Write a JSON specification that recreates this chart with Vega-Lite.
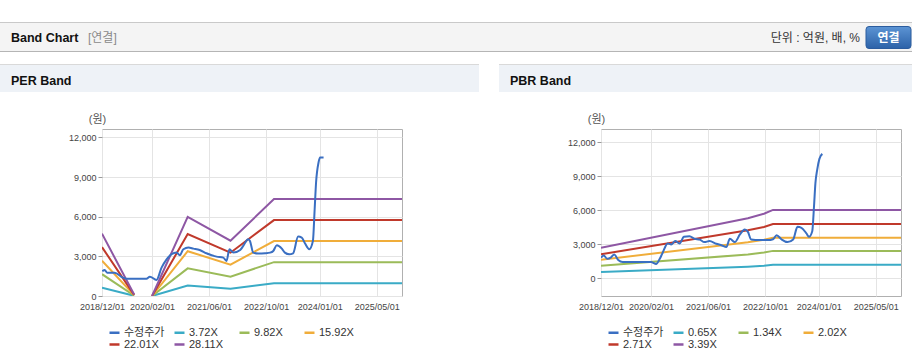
{
"$schema": "https://vega.github.io/schema/vega-lite/v6.json",
"background": "white",
"padding": {"top": 22, "left": 0, "right": 0, "bottom": 0},
"config": {
  "font": "Liberation Sans, Noto Sans CJK KR, sans-serif",
  "view": {"stroke": "#b0b0b0", "strokeWidth": 1},
  "axis": {"labelFontSize": 9, "labelColor": "#444", "gridColor": "#e4e4e4", "domain": false}
},
"datasets": {
  "perBand": [
    {"s": "3.72X", "d": "2018-12-01", "v": 625}, {"s": "3.72X", "d": "2019-09-01", "v": 15}, {"s": "3.72X", "d": "2019-11-15", "v": null}, {"s": "3.72X", "d": "2020-02-01", "v": 0}, {"s": "3.72X", "d": "2020-12-01", "v": 792}, {"s": "3.72X", "d": "2021-12-01", "v": 554}, {"s": "3.72X", "d": "2022-12-07", "v": 971}, {"s": "3.72X", "d": "2025-12-03", "v": 971},
    {"s": "9.82X", "d": "2018-12-01", "v": 1650}, {"s": "9.82X", "d": "2019-09-01", "v": 39}, {"s": "9.82X", "d": "2019-11-15", "v": null}, {"s": "9.82X", "d": "2020-02-01", "v": 0}, {"s": "9.82X", "d": "2020-12-01", "v": 2092}, {"s": "9.82X", "d": "2021-12-01", "v": 1463}, {"s": "9.82X", "d": "2022-12-07", "v": 2563}, {"s": "9.82X", "d": "2025-12-03", "v": 2563},
    {"s": "15.92X", "d": "2018-12-01", "v": 2675}, {"s": "15.92X", "d": "2019-09-01", "v": 64}, {"s": "15.92X", "d": "2019-11-15", "v": null}, {"s": "15.92X", "d": "2020-02-01", "v": 0}, {"s": "15.92X", "d": "2020-12-01", "v": 3391}, {"s": "15.92X", "d": "2021-12-01", "v": 2372}, {"s": "15.92X", "d": "2022-12-07", "v": 4155}, {"s": "15.92X", "d": "2025-12-03", "v": 4155},
    {"s": "22.01X", "d": "2018-12-01", "v": 3698}, {"s": "22.01X", "d": "2019-09-01", "v": 88}, {"s": "22.01X", "d": "2019-11-15", "v": null}, {"s": "22.01X", "d": "2020-02-01", "v": 0}, {"s": "22.01X", "d": "2020-12-01", "v": 4688}, {"s": "22.01X", "d": "2021-12-01", "v": 3279}, {"s": "22.01X", "d": "2022-12-07", "v": 5745}, {"s": "22.01X", "d": "2025-12-03", "v": 5745},
    {"s": "28.11X", "d": "2018-12-01", "v": 4722}, {"s": "28.11X", "d": "2019-09-01", "v": 112}, {"s": "28.11X", "d": "2019-11-15", "v": null}, {"s": "28.11X", "d": "2020-02-01", "v": 0}, {"s": "28.11X", "d": "2020-12-01", "v": 5987}, {"s": "28.11X", "d": "2021-12-01", "v": 4188}, {"s": "28.11X", "d": "2022-12-07", "v": 7337}, {"s": "28.11X", "d": "2025-12-03", "v": 7337}
  ],
  "perPrice": [
    {"s": "수정주가", "d": "2018-12-04", "v": 1869}, {"s": "수정주가", "d": "2018-12-24", "v": 1970}, {"s": "수정주가", "d": "2019-01-13", "v": 1768}, {"s": "수정주가", "d": "2019-03-18", "v": 1768}, {"s": "수정주가", "d": "2019-05-28", "v": 1389}, {"s": "수정주가", "d": "2019-06-27", "v": 1314}, {"s": "수정주가", "d": "2019-12-15", "v": 1314}, {"s": "수정주가", "d": "2020-01-13", "v": 1465}, {"s": "수정주가", "d": "2020-03-10", "v": 1212}, {"s": "수정주가", "d": "2020-04-22", "v": 2147}, {"s": "수정주가", "d": "2020-06-04", "v": 2779}, {"s": "수정주가", "d": "2020-07-16", "v": 3158}, {"s": "수정주가", "d": "2020-08-28", "v": 3284}, {"s": "수정주가", "d": "2020-09-25", "v": 3082}, {"s": "수정주가", "d": "2020-10-25", "v": 3536}, {"s": "수정주가", "d": "2020-12-07", "v": 3663}, {"s": "수정주가", "d": "2021-01-19", "v": 3587}, {"s": "수정주가", "d": "2021-03-13", "v": 3486}, {"s": "수정주가", "d": "2021-05-10", "v": 3233}, {"s": "수정주가", "d": "2021-08-04", "v": 2981}, {"s": "수정주가", "d": "2021-10-01", "v": 2905}, {"s": "수정주가", "d": "2021-10-28", "v": 2652}, {"s": "수정주가", "d": "2021-11-22", "v": 3536}, {"s": "수정주가", "d": "2021-12-25", "v": 3284}, {"s": "수정주가", "d": "2022-02-22", "v": 3486}, {"s": "수정주가", "d": "2022-03-20", "v": 3789}, {"s": "수정주가", "d": "2022-05-01", "v": 4300}, {"s": "수정주가", "d": "2022-05-16", "v": 4168}, {"s": "수정주가", "d": "2022-06-13", "v": 3284}, {"s": "수정주가", "d": "2022-07-25", "v": 3208}, {"s": "수정주가", "d": "2022-09-22", "v": 3233}, {"s": "수정주가", "d": "2022-11-04", "v": 3284}, {"s": "수정주가", "d": "2022-12-01", "v": 3410}, {"s": "수정주가", "d": "2022-12-31", "v": 3840}, {"s": "수정주가", "d": "2023-02-12", "v": 3587}, {"s": "수정주가", "d": "2023-03-10", "v": 3284}, {"s": "수정주가", "d": "2023-04-16", "v": 3158}, {"s": "수정주가", "d": "2023-05-19", "v": 3233}, {"s": "수정주가", "d": "2023-07-01", "v": 4496}, {"s": "수정주가", "d": "2023-08-01", "v": 4420}, {"s": "수정주가", "d": "2023-08-28", "v": 3991}, {"s": "수정주가", "d": "2023-10-04", "v": 3536}, {"s": "수정주가", "d": "2023-11-04", "v": 4168}, {"s": "수정주가", "d": "2023-11-19", "v": 6568}, {"s": "수정주가", "d": "2023-12-01", "v": 8588}, {"s": "수정주가", "d": "2023-12-22", "v": 10104}, {"s": "수정주가", "d": "2024-01-04", "v": 10483}, {"s": "수정주가", "d": "2024-02-03", "v": 10483}
  ],
  "pbrBand": [
    {"s": "0.65X", "d": "2018-12-01", "v": 545}, {"s": "0.65X", "d": "2022-05-07", "v": 1025}, {"s": "0.65X", "d": "2022-09-21", "v": 1100}, {"s": "0.65X", "d": "2022-12-07", "v": 1185}, {"s": "0.65X", "d": "2025-12-03", "v": 1185},
    {"s": "1.34X", "d": "2018-12-01", "v": 1100}, {"s": "1.34X", "d": "2022-05-07", "v": 2110}, {"s": "1.34X", "d": "2022-09-21", "v": 2270}, {"s": "1.34X", "d": "2022-12-07", "v": 2420}, {"s": "1.34X", "d": "2025-12-03", "v": 2420},
    {"s": "2.02X", "d": "2018-12-01", "v": 1630}, {"s": "2.02X", "d": "2022-05-07", "v": 3185}, {"s": "2.02X", "d": "2022-09-21", "v": 3400}, {"s": "2.02X", "d": "2022-12-07", "v": 3570}, {"s": "2.02X", "d": "2025-12-03", "v": 3570},
    {"s": "2.71X", "d": "2018-12-01", "v": 2130}, {"s": "2.71X", "d": "2022-05-07", "v": 4250}, {"s": "2.71X", "d": "2022-09-21", "v": 4530}, {"s": "2.71X", "d": "2022-12-07", "v": 4790}, {"s": "2.71X", "d": "2025-12-03", "v": 4790},
    {"s": "3.39X", "d": "2018-12-01", "v": 2690}, {"s": "3.39X", "d": "2022-05-07", "v": 5310}, {"s": "3.39X", "d": "2022-09-21", "v": 5705}, {"s": "3.39X", "d": "2022-12-07", "v": 6040}, {"s": "3.39X", "d": "2025-12-03", "v": 6040}
  ],
  "pbrPrice": [
    {"s": "수정주가", "d": "2018-12-01", "v": 1817}, {"s": "수정주가", "d": "2018-12-24", "v": 2022}, {"s": "수정주가", "d": "2019-01-22", "v": 1729}, {"s": "수정주가", "d": "2019-02-25", "v": 1850}, {"s": "수정주가", "d": "2019-03-24", "v": 2110}, {"s": "수정주가", "d": "2019-04-27", "v": 1612}, {"s": "수정주가", "d": "2019-06-04", "v": 1436}, {"s": "수정주가", "d": "2019-08-01", "v": 1436}, {"s": "수정주가", "d": "2019-11-07", "v": 1436}, {"s": "수정주가", "d": "2020-02-02", "v": 1436}, {"s": "수정주가", "d": "2020-02-16", "v": 1377}, {"s": "수정주가", "d": "2020-03-15", "v": 1260}, {"s": "수정주가", "d": "2020-04-13", "v": 1670}, {"s": "수정주가", "d": "2020-05-10", "v": 2256}, {"s": "수정주가", "d": "2020-06-22", "v": 3077}, {"s": "수정주가", "d": "2020-07-22", "v": 2989}, {"s": "수정주가", "d": "2020-08-25", "v": 3282}, {"s": "수정주가", "d": "2020-10-01", "v": 3077}, {"s": "수정주가", "d": "2020-11-07", "v": 3663}, {"s": "수정주가", "d": "2020-12-25", "v": 3721}, {"s": "수정주가", "d": "2021-02-07", "v": 3487}, {"s": "수정주가", "d": "2021-03-20", "v": 3428}, {"s": "수정주가", "d": "2021-05-01", "v": 3194}, {"s": "수정주가", "d": "2021-06-13", "v": 3282}, {"s": "수정주가", "d": "2021-08-10", "v": 3047}, {"s": "수정주가", "d": "2021-09-28", "v": 2901}, {"s": "수정주가", "d": "2021-11-04", "v": 2754}, {"s": "수정주가", "d": "2021-12-04", "v": 3487}, {"s": "수정주가", "d": "2022-01-16", "v": 3194}, {"s": "수정주가", "d": "2022-02-28", "v": 3868}, {"s": "수정주가", "d": "2022-04-10", "v": 4307}, {"s": "수정주가", "d": "2022-05-07", "v": 4100}, {"s": "수정주가", "d": "2022-06-04", "v": 3428}, {"s": "수정주가", "d": "2022-08-13", "v": 3370}, {"s": "수정주가", "d": "2022-10-25", "v": 3370}, {"s": "수정주가", "d": "2022-12-07", "v": 3450}, {"s": "수정주가", "d": "2023-01-07", "v": 3809}, {"s": "수정주가", "d": "2023-02-19", "v": 3428}, {"s": "수정주가", "d": "2023-04-10", "v": 3194}, {"s": "수정주가", "d": "2023-05-28", "v": 3428}, {"s": "수정주가", "d": "2023-07-04", "v": 4541}, {"s": "수정주가", "d": "2023-08-07", "v": 4453}, {"s": "수정주가", "d": "2023-09-19", "v": 3955}, {"s": "수정주가", "d": "2023-10-10", "v": 3663}, {"s": "수정주가", "d": "2023-11-07", "v": 4160}, {"s": "수정주가", "d": "2023-11-22", "v": 6358}, {"s": "수정주가", "d": "2023-12-04", "v": 8409}, {"s": "수정주가", "d": "2023-12-19", "v": 9581}, {"s": "수정주가", "d": "2024-01-07", "v": 10548}, {"s": "수정주가", "d": "2024-02-01", "v": 10988}
  ]
},
"spacing": 12,
"resolve": {"scale": {"x": "independent", "y": "independent", "color": "independent"}},
"vconcat": [
  {
    "width": 912, "height": 30,
    "view": {"stroke": null, "fill": {"gradient": "linear", "x1": 0, "y1": 0, "x2": 0, "y2": 1, "stops": [{"offset": 0, "color": "#c9c9c9"}, {"offset": 0.034, "color": "#c9c9c9"}, {"offset": 0.035, "color": "#f4f4f4"}, {"offset": 0.965, "color": "#f4f4f4"}, {"offset": 0.966, "color": "#b5b5b5"}, {"offset": 1, "color": "#b5b5b5"}]}},
    "layer": [
      {"data": {"values": [{"label": "Band Chart"}]}, "mark": {"type": "text", "align": "left", "baseline": "middle", "dx": 11, "dy": 1, "fontSize": 12.5, "fontWeight": "bold", "color": "#111"}, "encoding": {"text": {"field": "label"}, "x": {"datum": 0, "type": "quantitative", "scale": {"domain": [0, 1]}, "axis": null}}},
      {"data": {"values": [{"label": "[연결]"}]}, "mark": {"type": "text", "align": "left", "baseline": "middle", "dx": 88, "dy": 1, "fontSize": 12, "color": "#8a8a8a"}, "encoding": {"text": {"field": "label"}, "x": {"datum": 0, "type": "quantitative", "scale": {"domain": [0, 1]}, "axis": null}}},
      {"data": {"values": [{"label": "단위 : 억원, 배, %"}]}, "mark": {"type": "text", "align": "right", "baseline": "middle", "dx": -52, "dy": 1, "fontSize": 12, "color": "#333"}, "encoding": {"text": {"field": "label"}, "x": {"datum": 1, "type": "quantitative", "scale": {"domain": [0, 1]}, "axis": null}}},
      {"data": {"values": [{"label": "연결"}]}, "mark": {"type": "point", "shape": "M-4.3,-1.05 L-0.4,-1.05 Q-0.1,-1.05 -0.1,-0.75 L-0.1,0.85 Q-0.1,1.15 -0.4,1.15 L-4.3,1.15 Q-4.6,1.15 -4.6,0.85 L-4.6,-0.75 Q-4.6,-1.05 -4.3,-1.05 Z", "size": 400, "filled": true, "opacity": 1, "fill": {"gradient": "linear", "x1": 0, "y1": 0, "x2": 0, "y2": 1, "stops": [{"offset": 0, "color": "#5c94d4"}, {"offset": 1, "color": "#2c62a8"}]}, "stroke": "#2b5c9e", "strokeWidth": 1}, "encoding": {"x": {"datum": 1, "type": "quantitative", "scale": {"domain": [0, 1]}, "axis": null}}},
      {"data": {"values": [{"label": "연결"}]}, "mark": {"type": "text", "align": "center", "baseline": "middle", "dx": -23.5, "dy": 1, "fontSize": 12, "fontWeight": "bold", "color": "white"}, "encoding": {"text": {"field": "label"}, "x": {"datum": 1, "type": "quantitative", "scale": {"domain": [0, 1]}, "axis": null}}}
    ]
  },
  {
    "spacing": 20,
    "resolve": {"scale": {"x": "independent", "y": "independent", "color": "independent"}},
    "vconcat": [
      {
        "bounds": "flush",
        "spacing": 20,
        "resolve": {"scale": {"x": "independent"}},
        "hconcat": [
          {"width": 479, "height": 28, "view": {"stroke": null, "fill": {"gradient": "linear", "x1": 0, "y1": 0, "x2": 0, "y2": 1, "stops": [{"offset": 0, "color": "#d9d9d9"}, {"offset": 0.035, "color": "#d9d9d9"}, {"offset": 0.036, "color": "#eef2f7"}, {"offset": 1, "color": "#eef2f7"}]}},
           "data": {"values": [{"label": "PER Band"}]}, "mark": {"type": "text", "align": "left", "baseline": "middle", "dx": 11, "dy": 2.5, "fontSize": 12.5, "fontWeight": "bold", "color": "#111"}, "encoding": {"text": {"field": "label"}, "x": {"datum": 0, "type": "quantitative", "scale": {"domain": [0, 1]}, "axis": null}}},
          {"width": 413, "height": 28, "view": {"stroke": null, "fill": {"gradient": "linear", "x1": 0, "y1": 0, "x2": 0, "y2": 1, "stops": [{"offset": 0, "color": "#d9d9d9"}, {"offset": 0.035, "color": "#d9d9d9"}, {"offset": 0.036, "color": "#eef2f7"}, {"offset": 1, "color": "#eef2f7"}]}},
           "data": {"values": [{"label": "PBR Band"}]}, "mark": {"type": "text", "align": "left", "baseline": "middle", "dx": 11, "dy": 2.5, "fontSize": 12.5, "fontWeight": "bold", "color": "#111"}, "encoding": {"text": {"field": "label"}, "x": {"datum": 0, "type": "quantitative", "scale": {"domain": [0, 1]}, "axis": null}}}
        ]
      },
      {
        "bounds": "flush",
        "spacing": 0,
        "resolve": {"scale": {"x": "independent", "y": "independent", "color": "independent"}},
        "hconcat": [
          {"width": 102, "height": 167, "view": {"stroke": null}, "data": {"values": [{}]}, "mark": {"type": "point", "opacity": 0}},
          {
            "width": 300, "height": 167,
            "encoding": {
              "x": {"field": "d", "type": "temporal", "title": null, "scale": {"type": "utc", "domain": [{"year": 2018, "month": 12, "date": 1, "utc": true}, {"year": 2025, "month": 12, "date": 3, "utc": true}]}, "axis": {"values": [{"year": 2018, "month": 12, "date": 1, "utc": true}, {"year": 2020, "month": 2, "date": 1, "utc": true}, {"year": 2021, "month": 6, "date": 1, "utc": true}, {"year": 2022, "month": 10, "date": 1, "utc": true}, {"year": 2024, "month": 1, "date": 1, "utc": true}, {"year": 2025, "month": 5, "date": 1, "utc": true}], "format": "%Y/%m/%d", "ticks": false, "labelPadding": 6, "grid": true, "labelOverlap": false, "labelFlush": false}},
              "y": {"field": "v", "type": "quantitative", "scale": {"domain": [0, 12640], "nice": false, "zero": false}, "axis": {"values": [0, 3000, 6000, 9000, 12000], "format": ",d", "tickSize": 4, "tickColor": "#999", "labelPadding": 2, "grid": true, "title": "(원)", "titleAngle": 0, "titleX": -5, "titleY": -10, "titleAlign": "center", "titleBaseline": "middle", "titleFontSize": 11, "titleFontWeight": "normal", "titleColor": "#555"}},
              "color": {"field": "s", "type": "nominal", "scale": {"domain": ["수정주가", "3.72X", "9.82X", "15.92X", "22.01X", "28.11X"], "range": ["#3a6fc2", "#3aabc6", "#9bbb59", "#f0ad3a", "#c0392b", "#8e57a4"]}, "legend": {"orient": "none", "legendX": 6, "legendY": 197, "direction": "horizontal", "columns": 4, "title": null, "symbolType": "stroke", "symbolSize": 100, "symbolStrokeWidth": 2.5, "labelFontSize": 11, "labelColor": "#333", "labelOffset": 3, "columnPadding": 4, "rowPadding": 0, "gridAlign": "all", "padding": 0}}
            },
            "layer": [
              {"data": {"name": "perBand"}, "mark": {"type": "line", "strokeWidth": 2, "invalid": "break-paths-show-domains", "clip": true}},
              {"data": {"name": "perPrice"}, "mark": {"type": "line", "strokeWidth": 2, "interpolate": "monotone", "clip": true}}
            ]
          },
          {"width": 199, "height": 167, "view": {"stroke": null}, "data": {"values": [{}]}, "mark": {"type": "point", "opacity": 0}},
          {
            "width": 300, "height": 167,
            "encoding": {
              "x": {"field": "d", "type": "temporal", "title": null, "scale": {"type": "utc", "domain": [{"year": 2018, "month": 12, "date": 1, "utc": true}, {"year": 2025, "month": 12, "date": 3, "utc": true}]}, "axis": {"values": [{"year": 2018, "month": 12, "date": 1, "utc": true}, {"year": 2020, "month": 2, "date": 1, "utc": true}, {"year": 2021, "month": 6, "date": 1, "utc": true}, {"year": 2022, "month": 10, "date": 1, "utc": true}, {"year": 2024, "month": 1, "date": 1, "utc": true}, {"year": 2025, "month": 5, "date": 1, "utc": true}], "format": "%Y/%m/%d", "ticks": false, "labelPadding": 6, "grid": true, "labelOverlap": false, "labelFlush": false}},
              "y": {"field": "v", "type": "quantitative", "scale": {"domain": [-1566, 13186], "nice": false, "zero": false}, "axis": {"values": [0, 3000, 6000, 9000, 12000], "format": ",d", "tickSize": 4, "tickColor": "#999", "labelPadding": 2, "grid": true, "title": "(원)", "titleAngle": 0, "titleX": -5, "titleY": -10, "titleAlign": "center", "titleBaseline": "middle", "titleFontSize": 11, "titleFontWeight": "normal", "titleColor": "#555"}},
              "color": {"field": "s", "type": "nominal", "scale": {"domain": ["수정주가", "0.65X", "1.34X", "2.02X", "2.71X", "3.39X"], "range": ["#3a6fc2", "#3aabc6", "#9bbb59", "#f0ad3a", "#c0392b", "#8e57a4"]}, "legend": {"orient": "none", "legendX": 6, "legendY": 197, "direction": "horizontal", "columns": 4, "title": null, "symbolType": "stroke", "symbolSize": 100, "symbolStrokeWidth": 2.5, "labelFontSize": 11, "labelColor": "#333", "labelOffset": 3, "columnPadding": 4, "rowPadding": 0, "gridAlign": "all", "padding": 0}}
            },
            "layer": [
              {"data": {"name": "pbrBand"}, "mark": {"type": "line", "strokeWidth": 2, "clip": true}},
              {"data": {"name": "pbrPrice"}, "mark": {"type": "line", "strokeWidth": 2, "interpolate": "monotone", "clip": true}}
            ]
          }
        ]
      }
    ]
  }
]
}
